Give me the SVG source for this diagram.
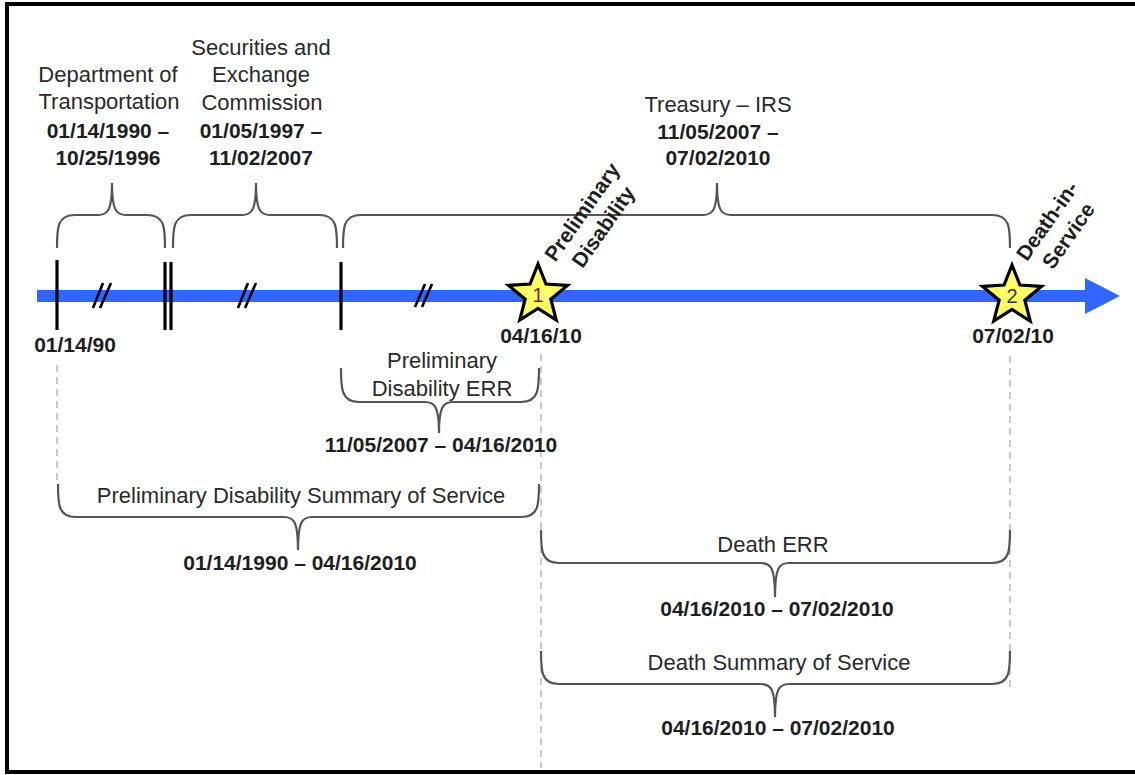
<svg xmlns="http://www.w3.org/2000/svg" width="1135" height="775" viewBox="0 0 1135 775">
<style>
.t{font-family:"Liberation Sans",Arial,sans-serif;font-size:22px;fill:#2a2a2a;text-anchor:middle}
.b{font-family:"Liberation Sans",Arial,sans-serif;font-size:21px;font-weight:bold;fill:#1e1e1e;text-anchor:middle}
.brace{fill:none;stroke:#555;stroke-width:2.2}
.dash{fill:none;stroke:#bdbdbd;stroke-width:1.6;stroke-dasharray:7 5}
.tick{stroke:#000;stroke-width:3.2}
.sl{stroke:#000;stroke-width:2.6}
.star{fill:#ffff66;stroke:#000;stroke-width:3.2;stroke-linejoin:miter}
.num{font-family:"Liberation Sans",Arial,sans-serif;font-size:20px;text-anchor:middle}
</style>
<defs>
<path id="star" d="M0,-31 L7.94,-10.92 L29.48,-9.58 L12.84,4.17 L18.22,25.08 L0,13.5 L-18.22,25.08 L-12.84,4.17 L-29.48,-9.58 L-7.94,-10.92 Z"/>
</defs>
<rect x="0" y="0" width="1135" height="775" fill="#fff"/>
<rect x="7" y="4" width="1140" height="768" fill="none" stroke="#000" stroke-width="4"/>

<g id="connectors">
<line class="dash" x1="57" y1="365" x2="57" y2="483"/>
<line class="dash" x1="541" y1="354" x2="541" y2="768"/>
<line class="dash" x1="1010" y1="356" x2="1010" y2="690"/>
<path class="brace" d="M57,248 C57,228 57,215 75,215 L98,215 C108,215 112,210 112,183 C112,210 116,215 126,215 L147,215 C165,215 165,228 165,248"/>
<path class="brace" d="M173,248 C173,228 173,215 191,215 L242,215 C252,215 256,210 256,183 C256,210 260,215 270,215 L319,215 C337,215 337,228 337,248"/>
<path class="brace" d="M343,248 C343,228 343,215 361,215 L703,215 C713,215 717,210 717,183 C717,210 721,215 731,215 L992,215 C1010,215 1010,228 1010,248"/>
<path class="brace" d="M341,368 C341,388 341,402 359,402 L425,402 C435,402 439,407 439,433 C439,407 443,402 453,402 L521,402 C539,402 539,388 539,368"/>
<path class="brace" d="M58,484 C58,504 58,517 76,517 L284,517 C294,517 298,522 298,550 C298,522 302,517 312,517 L521,517 C539,517 539,504 539,484"/>
<path class="brace" d="M541,530 C541,550 541,563 559,563 L761,563 C771,563 775,568 775,597 C775,568 779,563 789,563 L992,563 C1010,563 1010,550 1010,530"/>
<path class="brace" d="M541,651 C541,671 541,684 559,684 L761,684 C771,684 775,689 775,717 C775,689 779,684 789,684 L992,684 C1010,684 1010,671 1010,651"/>
</g>

<g id="timeline">
<line x1="37" y1="296" x2="1090" y2="296" stroke="#3366ff" stroke-width="12"/>
<polygon points="1085,278 1120,296 1085,314" fill="#3366ff"/>
<line class="tick" x1="57" y1="260" x2="57" y2="330"/>
<line class="tick" x1="165" y1="262" x2="165" y2="330"/>
<line class="tick" x1="171" y1="262" x2="171" y2="330"/>
<line class="tick" x1="341" y1="262" x2="341" y2="330"/>
<line class="sl" x1="93" y1="308" x2="103" y2="283"/>
<line class="sl" x1="100" y1="308" x2="111" y2="283"/>
<line class="sl" x1="238" y1="308" x2="248" y2="283"/>
<line class="sl" x1="245" y1="308" x2="256" y2="283"/>
<line class="sl" x1="415" y1="307" x2="425" y2="284"/>
<line class="sl" x1="422" y1="307" x2="432" y2="284"/>
<text class="b" x="75" y="352">01/14/90</text>
</g>

<g id="dot">
<text class="t" x="108" y="82">Department of</text>
<text class="t" x="109" y="109">Transportation</text>
<text class="b" x="108" y="138">01/14/1990 –</text>
<text class="b" x="108" y="165">10/25/1996</text>
</g>

<g id="sec">
<text class="t" x="261" y="55">Securities and</text>
<text class="t" x="261" y="82">Exchange</text>
<text class="t" x="262" y="110">Commission</text>
<text class="b" x="261" y="138">01/05/1997 –</text>
<text class="b" x="261" y="165">11/02/2007</text>
</g>

<g id="treasury">
<text class="t" x="718" y="112">Treasury – IRS</text>
<text class="b" x="718" y="139">11/05/2007 –</text>
<text class="b" x="718" y="165">07/02/2010</text>
</g>

<g id="event1">
<use href="#star" class="star" transform="translate(538,295)"/>
<text class="num" x="538" y="302" fill="#8b1a1a">1</text>
<text class="b" x="541" y="343">04/16/10</text>
<g transform="translate(588,216) rotate(-55)">
<text class="b" x="0" y="0">Preliminary</text>
<text class="b" x="0" y="26">Disability</text>
</g>
</g>

<g id="event2">
<use href="#star" class="star" transform="translate(1012,296)"/>
<text class="num" x="1012" y="303" fill="#333">2</text>
<text class="b" x="1013" y="343">07/02/10</text>
<g transform="translate(1053,225) rotate(-55)">
<text class="b" x="0" y="0">Death-in-</text>
<text class="b" x="0" y="26">Service</text>
</g>
</g>

<g id="prelimERR">
<text class="t" x="442" y="368">Preliminary</text>
<text class="t" x="442" y="396">Disability ERR</text>
<text class="b" x="441" y="452">11/05/2007 – 04/16/2010</text>
</g>

<g id="prelimSummary">
<text class="t" x="301" y="503">Preliminary Disability Summary of Service</text>
<text class="b" x="300" y="570">01/14/1990 – 04/16/2010</text>
</g>

<g id="deathERR">
<text class="t" x="773" y="552">Death ERR</text>
<text class="b" x="777" y="616">04/16/2010 – 07/02/2010</text>
</g>

<g id="deathSummary">
<text class="t" x="779" y="670">Death Summary of Service</text>
<text class="b" x="778" y="735">04/16/2010 – 07/02/2010</text>
</g>
</svg>
